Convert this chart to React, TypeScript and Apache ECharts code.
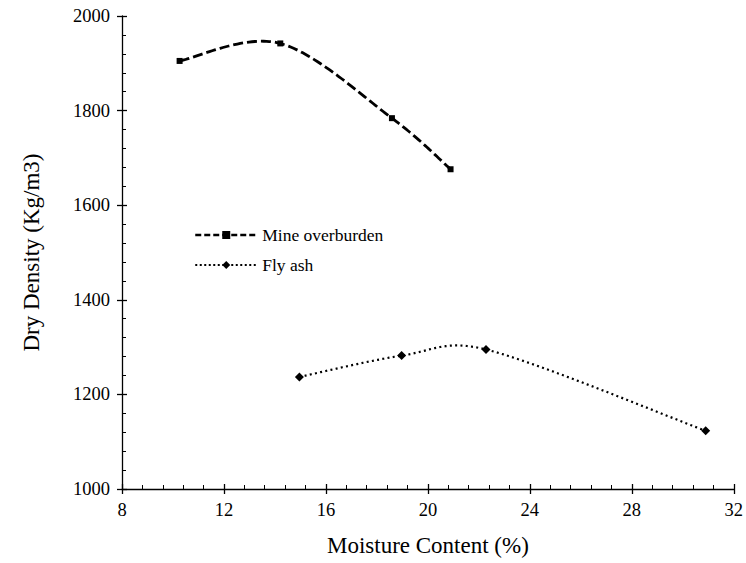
import React, { useEffect, useRef } from "react";
import * as echarts from "echarts";

const mineX = [10.26, 14.21, 18.59, 20.89];
const mineY = [1905, 1942, 1784, 1676];
const ashX = [14.96, 18.97, 22.28, 30.9];
const ashY = [1237, 1282, 1295, 1123];
const seriesNames = ["Mine overburden", "Fly ash"];
const xTitle = "Moisture Content (%)";
const yTitle = "Dry Density (Kg/m3)";

const FONT = "'Liberation Serif', 'Times New Roman', serif";
const black = "#000";

function limitVec(v: number[], maxLen: number) {
  const len = Math.hypot(v[0], v[1]);
  if (len > maxLen && len > 0) {
    const k = maxLen / len;
    return [v[0] * k, v[1] * k];
  }
  return v;
}

// Excel-like smoothed curve (Bezier with limited tangents) drawn through the axes' scales
function smoothRenderer(lineWidth: number, lineDash: number[]) {
  return (params: any, api: any) => {
    if (params.dataIndexInside !== 0) return null;
    const n = params.dataInsideLength;
    const p: number[][] = [];
    for (let j = 0; j < n; j++) p.push(api.coord([api.value(0, j), api.value(1, j)]));
    const pts: number[][] = [p[0]];
    const steps = 40;
    for (let i = 0; i < n - 1; i++) {
      const p0 = p[Math.max(i - 1, 0)];
      const p1 = p[i];
      const p2 = p[i + 1];
      const p3 = p[Math.min(i + 2, n - 1)];
      const half = Math.hypot(p2[0] - p1[0], p2[1] - p1[1]) / 2;
      const t1 = limitVec([(p2[0] - p0[0]) / 6, (p2[1] - p0[1]) / 6], half);
      const t2 = limitVec([(p3[0] - p1[0]) / 6, (p3[1] - p1[1]) / 6], half);
      const c1 = [p1[0] + t1[0], p1[1] + t1[1]];
      const c2 = [p2[0] - t2[0], p2[1] - t2[1]];
      for (let s = 1; s <= steps; s++) {
        const t = s / steps;
        const u = 1 - t;
        const a = u * u * u, b = 3 * u * u * t, c = 3 * u * t * t, d = t * t * t;
        pts.push([
          a * p1[0] + b * c1[0] + c * c2[0] + d * p2[0],
          a * p1[1] + b * c1[1] + c * c2[1] + d * p2[1],
        ]);
      }
    }
    return {
      type: "polyline",
      shape: { points: pts },
      style: { stroke: black, lineWidth, lineDash, fill: null },
      silent: true,
    };
  };
}

export default function App() {
  const ref = useRef<HTMLDivElement>(null);
  useEffect(() => {
    if (!ref.current) return;
    const chart = echarts.init(ref.current, undefined, { renderer: "svg" });
    const xBase = { type: "value", min: 8, max: 32, interval: 4, position: "bottom", gridIndex: 0, splitLine: { show: false } };
    const yBase = { type: "value", min: 1000, max: 2000, interval: 200, position: "left", gridIndex: 0, splitLine: { show: false } };
    const mineData = mineX.map((x, i) => [x, mineY[i]]);
    const ashData = ashX.map((x, i) => [x, ashY[i]]);
    chart.setOption({
      animation: false,
      backgroundColor: "#fff",
      grid: { left: 122, right: 9, top: 16, bottom: 74 },
      xAxis: [
        {
          ...xBase,
          name: xTitle,
          nameLocation: "middle",
          nameGap: 45,
          nameTextStyle: { fontFamily: FONT, fontSize: 23, color: black },
          axisLine: { show: true, lineStyle: { color: black, width: 1.3 } },
          axisTick: { show: true, inside: false, length: 5, lineStyle: { color: black, width: 1.3 } },
          axisLabel: { fontFamily: FONT, fontSize: 18.5, color: black, margin: 11 },
        },
        {
          ...xBase,
          axisLine: { show: false },
          axisTick: { show: true, inside: true, length: 5, lineStyle: { color: black, width: 1.3 } },
          minorTick: { show: true, splitNumber: 5, length: 4, lineStyle: { color: black, width: 1 } },
          axisLabel: { show: false },
        },
      ],
      yAxis: [
        {
          ...yBase,
          name: yTitle,
          nameLocation: "middle",
          nameGap: 79,
          nameTextStyle: { fontFamily: FONT, fontSize: 23, color: black },
          axisLine: { show: true, lineStyle: { color: black, width: 1.3 } },
          axisTick: { show: true, inside: false, length: 5, lineStyle: { color: black, width: 1.3 } },
          axisLabel: { fontFamily: FONT, fontSize: 18.5, color: black, margin: 12, formatter: (v: number) => String(v) },
        },
        {
          ...yBase,
          axisLine: { show: false },
          axisTick: { show: true, inside: true, length: 5, lineStyle: { color: black, width: 1.3 } },
          minorTick: { show: true, splitNumber: 5, length: 4, lineStyle: { color: black, width: 1 } },
          axisLabel: { show: false },
        },
      ],
      legend: {
        orient: "vertical",
        left: 189,
        top: 221,
        itemWidth: 62,
        itemHeight: 10,
        itemGap: 12,
        textStyle: { fontFamily: FONT, fontSize: 17.5, color: black },
        data: [
          { name: seriesNames[0], lineStyle: { opacity: 1, width: 2.5, type: [6, 3], color: black } },
          { name: seriesNames[1], lineStyle: { opacity: 1, width: 2, type: [2, 2.5], color: black } },
        ],
      },
      series: [
        {
          type: "custom",
          xAxisIndex: 0,
          yAxisIndex: 0,
          data: mineData,
          renderItem: smoothRenderer(2.8, [10, 4]),
          silent: true,
          z: 2,
        },
        {
          type: "custom",
          xAxisIndex: 0,
          yAxisIndex: 0,
          data: ashData,
          renderItem: smoothRenderer(2.2, [2, 3.3]),
          silent: true,
          z: 2,
        },
        {
          name: seriesNames[0],
          type: "line",
          xAxisIndex: 0,
          yAxisIndex: 0,
          data: mineData,
          symbol: "rect",
          symbolSize: 6,
          itemStyle: { color: black },
          lineStyle: { color: black, width: 2.5, type: [6, 3], opacity: 0 },
          z: 3,
        },
        {
          name: seriesNames[1],
          type: "line",
          xAxisIndex: 0,
          yAxisIndex: 0,
          data: ashData,
          symbol: "diamond",
          symbolSize: 9,
          itemStyle: { color: black },
          lineStyle: { color: black, width: 2, type: [2, 2.5], opacity: 0 },
          z: 3,
        },
      ],
    });
    return () => chart.dispose();
  }, []);
  return <div ref={ref} style={{ width: 746, height: 563, position: "absolute", left: 0, top: 0 }} />;
}
